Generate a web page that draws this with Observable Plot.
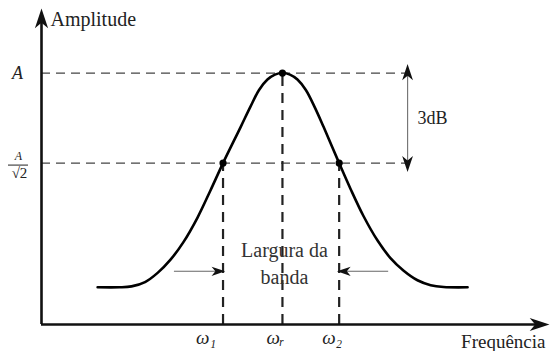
<!DOCTYPE html>
<html>
<head>
<meta charset="utf-8">
<script src="https://cdn.jsdelivr.net/npm/d3@7"></script>
<script src="https://cdn.jsdelivr.net/npm/@observablehq/plot@0.6"></script>
<style>
  html, body { margin: 0; padding: 0; background: #fff; }
</style>
</head>
<body>
<div id="chart"></div>
<script>
// Resonance curve: amplitude vs frequency
const freq = [18.7, 26, 30, 34.5, 38.7, 43, 47.3, 52, 56.3, 60.5, 66.4, 69.6, 72.5, 75.3, 77.8, 80.3,
              82.8, 85.3, 88.1, 91, 94, 99.2, 103, 107.3, 112, 116.3, 120.7, 125.3, 129.7, 134, 142];
const amp  = [0.303, 0.303, 0.306, 0.32, 0.35, 0.393, 0.45, 0.53, 0.618, 0.707, 0.825, 0.89, 0.945, 0.979, 0.995, 1.0,
              0.995, 0.979, 0.945, 0.89, 0.825, 0.707, 0.623, 0.535, 0.455, 0.398, 0.357, 0.326, 0.31, 0.304, 0.303];

// Key frequencies and levels
const omega1 = 60.5, omegaR = 80.3, omega2 = 99.2;
const A = 1, halfPower = Math.SQRT1_2;
const tickValues = [omega1, omegaR, omega2];
const tickLabels = ["ω₁", "ωᵣ", "ω₂"];
const xDomain = [0, 169.3];
const yDomain = [0.182, 1.21];
const bandLevel = 0.355;           // height of the bandwidth arrows
const bandArrowsLeft = [44.3, 59.7];
const bandArrowsRight = [115.7, 100];
const dbX = 122;                    // position of the 3dB marker
const guideEnd = 123.7;             // right end of the horizontal guides

const curve = freq.map((f, i) => ({f, a: amp[i]}));
const keyPoints = [
  {f: omega1, a: halfPower},
  {f: omegaR, a: A},
  {f: omega2, a: halfPower}
];

// Filled, barbed arrowhead pointing up
const arrowHead = {
  draw(ctx, size) {
    const s = Math.sqrt(size / Math.PI) / 5;
    ctx.moveTo(0, -10 * s);
    ctx.lineTo(6 * s, 8 * s);
    ctx.lineTo(0, 3 * s);
    ctx.lineTo(-6 * s, 8 * s);
    ctx.closePath();
  }
};

const serif = "Liberation Serif";
const ink = "#222";

const chart = Plot.plot({
  width: 551,
  height: 351,
  margin: 0,
  x: {domain: xDomain, range: [41, 549], axis: null},
  y: {domain: yDomain, range: [324, 8], axis: null},
  marks: [
    // horizontal guides at A and A/√2
    Plot.ruleY([A, halfPower], {x1: xDomain[0], x2: guideEnd, stroke: "#444", strokeWidth: 1.3, strokeDasharray: "9,6"}),
    // vertical guides down to the frequency axis
    Plot.ruleX(keyPoints, {x: "f", y1: yDomain[0], y2: "a", stroke: "#222", strokeWidth: 2.2, strokeDasharray: "10,7"}),
    // 3dB span
    Plot.ruleX([dbX], {y1: halfPower, y2: A, stroke: "#777", strokeWidth: 1.2}),
    Plot.dot([{f: dbX, a: A, r: 0}, {f: dbX, a: halfPower, r: 180}], {
      x: "f", y: "a", rotate: "r", symbol: arrowHead, r: 4.5, fill: "#111"
    }),
    // bandwidth arrows
    Plot.ruleY([bandLevel], {x1: bandArrowsLeft[0], x2: bandArrowsLeft[1], stroke: "#666", strokeWidth: 1.1}),
    Plot.ruleY([bandLevel], {x1: bandArrowsRight[0], x2: bandArrowsRight[1], stroke: "#666", strokeWidth: 1.1}),
    Plot.dot([{f: bandArrowsLeft[1], r: 90}], {x: "f", y: () => bandLevel, rotate: "r", symbol: arrowHead, r: 3.8, fill: "#111", dx: -3}),
    Plot.dot([{f: bandArrowsRight[1], r: -90}], {x: "f", y: () => bandLevel, rotate: "r", symbol: arrowHead, r: 3.8, fill: "#111", dx: 3}),
    // resonance curve
    Plot.line(curve, {x: "f", y: "a", curve: "catmull-rom", stroke: "#000", strokeWidth: 2.6}),
    Plot.dot(keyPoints, {x: "f", y: "a", r: 3.6, fill: "#000"}),
    // axes
    Plot.ruleX([xDomain[0]], {y1: yDomain[0], y2: yDomain[1] - 0.03, stroke: "#111", strokeWidth: 2.6}),
    Plot.ruleY([yDomain[0]], {x1: xDomain[0], x2: xDomain[1] - 4, stroke: "#111", strokeWidth: 2.6}),
    Plot.dot([0], {x: () => xDomain[0], y: () => yDomain[1], symbol: arrowHead, r: 5.5, fill: "#111", dy: 11}),
    Plot.dot([0], {x: () => xDomain[1], y: () => yDomain[0], symbol: arrowHead, r: 5.5, rotate: 90, fill: "#111", dx: -11}),
    // axis labels
    Plot.text(["Amplitude"], {x: () => xDomain[0], y: () => yDomain[1], dx: 9, dy: 11, textAnchor: "start", fontSize: 20, fontFamily: serif, fill: ink}),
    Plot.text(["Frequência"], {x: () => xDomain[1], y: () => yDomain[0], dx: -4, dy: 17, textAnchor: "end", fontSize: 19, fontFamily: serif, fill: ink}),
    Plot.text([omega1], {x: d => d, y: () => yDomain[0], text: () => tickLabels[0], dx: -17, dy: 13, fontSize: 19, fontStyle: "italic", fontFamily: serif, fill: ink}),
    Plot.text(tickValues.slice(1), {x: d => d, y: () => yDomain[0], text: (d, i) => tickLabels[i + 1], dx: -7, dy: 13, fontSize: 19, fontStyle: "italic", fontFamily: serif, fill: ink}),
    // level labels
    Plot.text(["A"], {x: () => xDomain[0], y: () => A, dx: -24, fontSize: 18, fontStyle: "italic", fontFamily: serif, fill: ink}),
    Plot.text(["A"], {x: () => xDomain[0], y: () => halfPower, dx: -23, dy: -7, fontSize: 12, fontStyle: "italic", fontFamily: serif, fill: ink}),
    Plot.ruleY([halfPower], {x1: xDomain[0], x2: xDomain[0], dx: -23, dy: 2, stroke: ink, strokeWidth: 1, insetLeft: -10, insetRight: -10}),
    Plot.text(["√2"], {x: () => xDomain[0], y: () => halfPower, dx: -22, dy: 10, fontSize: 15, fontFamily: serif, fill: ink}),
    Plot.text(["3dB"], {x: () => dbX, y: () => (A + halfPower) / 2, dx: 10, textAnchor: "start", fontSize: 18, fontFamily: serif, fill: ink}),
    Plot.text(["Largura da\nbanda"], {x: () => omegaR, y: () => bandLevel + 0.031, dx: 2, fontSize: 20, lineHeight: 1.35, fontFamily: serif, fill: "#333"})
  ]
});

document.getElementById("chart").appendChild(chart);
</script>
</body>
</html>
